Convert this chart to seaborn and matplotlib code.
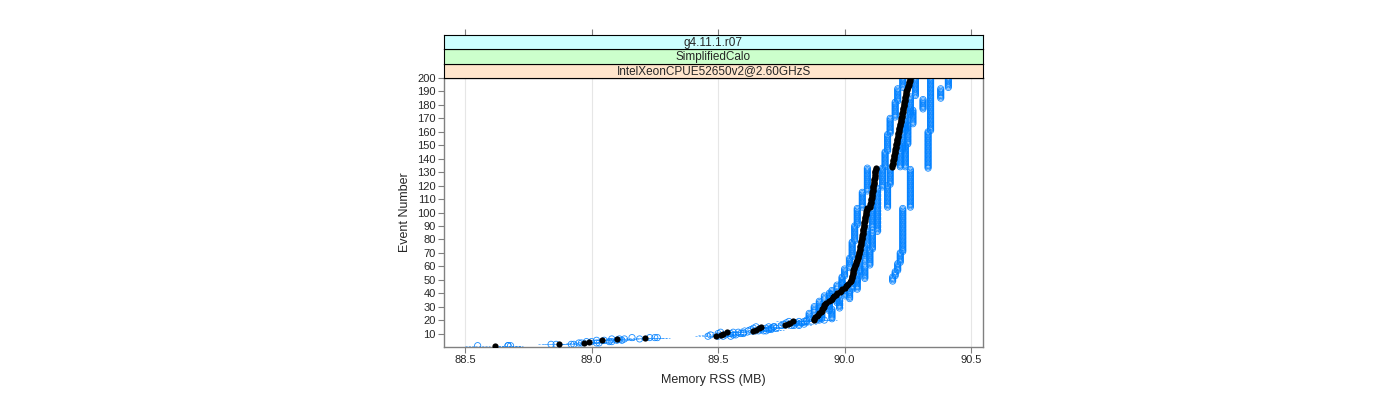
import numpy as np
import pandas as pd
import matplotlib
matplotlib.use("Agg")
import matplotlib.pyplot as plt
import seaborn as sns

# ---------------- data ----------------
events = list(range(1, 201))

# reference series (black dots), one value per event
ref_mem = [
    88.62, 88.87, 88.97, 88.99, 89.04, 89.10, 89.21, 89.49, 89.51, 89.52,
    89.535, 89.64, 89.65, 89.66, 89.67, 89.765, 89.775, 89.785, 89.795, 89.88,
    89.88, 89.885, 89.89, 89.895, 89.90, 89.905, 89.91, 89.912, 89.915, 89.918,
    89.92, 89.922, 89.925, 89.94, 89.945, 89.95, 89.955, 89.96, 89.965, 89.97,
    89.98, 89.985, 89.99, 90.00, 90.005, 90.01, 90.015, 90.02, 90.024, 90.027,
    90.029, 90.030, 90.031, 90.032, 90.033, 90.034, 90.035, 90.037, 90.039, 90.041,
    90.043, 90.045, 90.047, 90.049, 90.051, 90.053, 90.054, 90.055, 90.056, 90.057,
    90.058, 90.059, 90.060, 90.061, 90.062, 90.063, 90.064, 90.065, 90.066, 90.067,
    90.068, 90.069, 90.070, 90.071, 90.072, 90.073, 90.073, 90.074, 90.075, 90.076,
    90.076, 90.077, 90.078, 90.079, 90.080, 90.081, 90.082, 90.083, 90.084, 90.085,
    90.086, 90.087, 90.088, 90.100, 90.101, 90.102, 90.103, 90.104, 90.105, 90.106,
    90.107, 90.108, 90.108, 90.109, 90.110, 90.111, 90.112, 90.112, 90.113, 90.114,
    90.115, 90.116, 90.116, 90.117, 90.118, 90.119, 90.119, 90.120, 90.121, 90.122,
    90.122, 90.123, 90.124, 90.188, 90.189, 90.190, 90.191, 90.192, 90.193, 90.194,
    90.195, 90.196, 90.197, 90.198, 90.199, 90.200, 90.201, 90.202, 90.203, 90.204,
    90.205, 90.206, 90.207, 90.208, 90.209, 90.210, 90.211, 90.212, 90.213, 90.214,
    90.215, 90.216, 90.217, 90.218, 90.219, 90.220, 90.221, 90.222, 90.223, 90.224,
    90.225, 90.226, 90.227, 90.228, 90.229, 90.230, 90.231, 90.232, 90.233, 90.234,
    90.235, 90.236, 90.237, 90.238, 90.239, 90.240, 90.241, 90.242, 90.243, 90.244,
    90.246, 90.248, 90.250, 90.252, 90.254, 90.255, 90.256, 90.257, 90.258, 90.260,
]

# individual runs (blue circles), run-length encoded: value held for `count` events
runL_vals = [88.55, 88.84, 88.95, 88.98, 89.02, 89.08, 89.16, 89.46, 89.47, 89.50,
             89.51, 89.62, 89.63, 89.64, 89.65, 89.75, 89.76, 89.77, 89.78, 89.85,
             89.86, 89.88, 89.90, 89.92, 89.95, 89.97, 89.99, 90.00, 90.02, 90.03,
             90.04, 90.05, 90.07, 90.09, 90.16, 90.17, 90.18, 90.20, 90.21, 90.23]
runL_counts = [1] * 20 + [5, 5, 4, 4, 4, 4, 6, 6, 8, 12, 12, 13, 12, 18, 12, 13, 12, 12, 10, 8]

runR1_vals = [88.67, 88.92, 89.03, 89.08, 89.12, 89.19, 89.26, 89.55, 89.56, 89.59,
              89.58, 89.69, 89.70, 89.71, 89.72, 89.82, 89.82, 89.83, 89.84, 89.90,
              89.91, 89.94, 89.97, 90.00, 90.03, 90.05, 90.06, 90.08, 90.09, 90.11,
              90.13, 90.15, 90.22, 90.23, 90.24, 90.26, 90.28]
runR1_counts = [1] * 20 + [6, 6, 5, 5, 6, 7, 9, 11, 13, 15, 15, 15, 13, 14, 12, 14, 14]

runR2_vals = [88.68, 88.93, 89.02, 89.07, 89.10, 89.13, 89.25, 89.52, 89.57, 89.60,
              89.60, 89.68, 89.71, 89.73, 89.70, 89.80, 89.84, 89.81, 89.85, 89.92,
              89.95, 89.98, 90.02, 90.05, 90.08, 90.10, 90.11, 90.13, 90.17, 90.18,
              90.24, 90.25, 90.27, 90.31, 90.38, 90.41]
runR2_counts = [1] * 20 + [8, 7, 7, 8, 10, 12, 13, 18, 17, 13, 17, 15, 11, 8, 8, 8]

runO_vals = [88.67, 88.86, 88.96, 89.00, 89.05, 89.11, 89.23, 89.50, 89.53, 89.55,
             89.56, 89.66, 89.67, 89.69, 89.72, 89.79, 89.80, 89.80, 89.82, 89.89,
             89.90, 89.94, 89.99, 90.19, 90.20, 90.21, 90.22, 90.23, 90.26, 90.33, 90.34]
runO_counts = [1] * 20 + [10, 10, 8, 4, 4, 6, 8, 33, 29, 28, 40]

strip_labels = ["IntelXeonCPUE52650v2@2.60GHzS", "SimplifiedCalo", "g4.11.1.r07"]
x_ticks = [88.5, 89.0, 89.5, 90.0, 90.5]
x_tick_labels = ["88.5", "89.0", "89.5", "90.0", "90.5"]
y_ticks = list(range(10, 201, 10))

# error-bar half-widths (MB): early sparse events vs. later dense events
err_early, err_late, err_split = 0.05, 0.012, 20

# ---------------- build frames ----------------
ev = np.array(events)
frames = []
for name, vals, cnts in [("L", runL_vals, runL_counts), ("R1", runR1_vals, runR1_counts),
                         ("R2", runR2_vals, runR2_counts), ("O", runO_vals, runO_counts)]:
    mem = np.repeat(vals, cnts)
    frames.append(pd.DataFrame({"event": ev, "mem": mem, "run": name}))
runs = pd.concat(frames, ignore_index=True)
runs["err"] = np.where(runs["event"] <= err_split, err_early, err_late)
ref = pd.DataFrame({"event": ev, "mem": ref_mem})

# ---------------- plot ----------------
sns.set_style("white")
plt.rcParams["font.family"] = ["Liberation Sans", "DejaVu Sans"]

fig = plt.figure(figsize=(14, 4), dpi=100)
L, R = 444 / 1400, 983 / 1400
B, T = 1 - 347 / 400, 1 - 78 / 400
ax = fig.add_axes([L, B, R - L, T - B])

blue = "#0080ff"
ax.hlines(runs["event"], runs["mem"] - runs["err"], runs["mem"] + runs["err"],
          colors=blue, linestyles=(0, (2.5, 1.5)), lw=0.6, alpha=0.6, zorder=2)
sns.scatterplot(data=runs, x="mem", y="event", ax=ax, marker="o", s=20,
                facecolors="none", edgecolor=blue, linewidth=0.6, alpha=0.9,
                legend=False, zorder=3)
sns.scatterplot(data=ref, x="mem", y="event", ax=ax, color="black", s=20,
                linewidth=0, legend=False, zorder=4)

ax.set_xlim(88.417, 90.547)
ax.set_ylim(0, 200)
ax.set_xticks(x_ticks)
ax.set_xticklabels(x_tick_labels)
ax.set_yticks(y_ticks)
ax.grid(axis="x", color="#e6e6e6", lw=0.8)
ax.set_axisbelow(True)
for s in ax.spines.values():
    s.set_color("#808080")
    s.set_linewidth(1.0)
ax.tick_params(direction="out", length=4, width=0.8, color="#808080", labelsize=8, pad=2)
ax.tick_params(axis="y", right=False, left=True)
ax.tick_params(axis="x", top=False, bottom=True)
ax.set_xlabel("Memory RSS (MB)", fontsize=9, labelpad=6)
ax.set_ylabel("Event Number", fontsize=9, labelpad=4)

# lattice-style strips
h = 14.3 / 400
colors = ["#ffe5cc", "#ccffcc", "#ccffff"]
for i, (c, txt) in enumerate(zip(colors, strip_labels)):
    sa = fig.add_axes([L, T + i * h, R - L, h])
    sa.set_facecolor(c)
    sa.set_xlim(ax.get_xlim())
    sa.set_ylim(0, 1)
    sa.set_yticks([])
    for s in sa.spines.values():
        s.set_color("black")
        s.set_linewidth(0.8)
    sa.text(0.5, 0.45, txt, transform=sa.transAxes, ha="center", va="center", fontsize=8.5)
    if i == len(colors) - 1:
        sa.set_xticks(x_ticks)
        sa.tick_params(axis="x", top=True, bottom=False, labeltop=False, labelbottom=False,
                       direction="out", length=4, width=0.8, color="#808080")
    else:
        sa.set_xticks([])

fig.savefig("out.png", dpi=100)
